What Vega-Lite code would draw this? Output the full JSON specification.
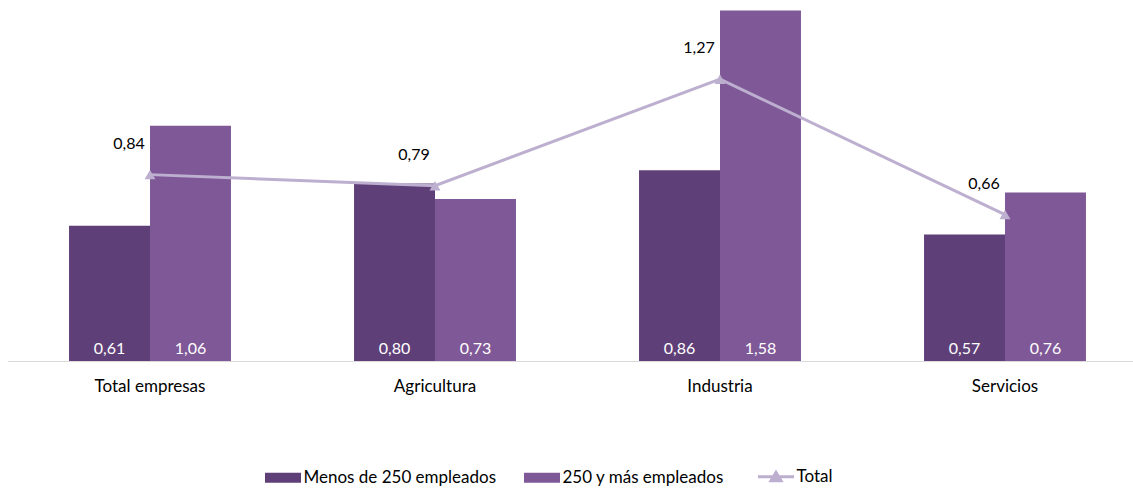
{
  "$schema": "https://vega.github.io/schema/vega-lite/v6.json",
  "width": 1125,
  "height": 355,
  "autosize": {"type": "none"},
  "padding": {"left": 7.5, "top": 6, "right": 0, "bottom": 128},
  "config": {
    "view": {"stroke": null},
    "font": "Lato",
    "locale": {"number": {"decimal": ",", "thousands": ".", "grouping": [3], "currency": ["", " €"]}}
  },
  "datasets": {
    "bars": [
      {"cat": "Total empresas", "serie": "Menos de 250 empleados", "valor": 0.61},
      {"cat": "Total empresas", "serie": "250 y más empleados", "valor": 1.06},
      {"cat": "Agricultura", "serie": "Menos de 250 empleados", "valor": 0.80},
      {"cat": "Agricultura", "serie": "250 y más empleados", "valor": 0.73},
      {"cat": "Industria", "serie": "Menos de 250 empleados", "valor": 0.86},
      {"cat": "Industria", "serie": "250 y más empleados", "valor": 1.58},
      {"cat": "Servicios", "serie": "Menos de 250 empleados", "valor": 0.57},
      {"cat": "Servicios", "serie": "250 y más empleados", "valor": 0.76}
    ],
    "total": [
      {"cat": "Total empresas", "serie": "Total", "valor": 0.84},
      {"cat": "Agricultura", "serie": "Total", "valor": 0.79},
      {"cat": "Industria", "serie": "Total", "valor": 1.27},
      {"cat": "Servicios", "serie": "Total", "valor": 0.66}
    ]
  },
  "encoding": {
    "x": {
      "field": "cat", "type": "nominal",
      "sort": ["Total empresas", "Agricultura", "Industria", "Servicios"],
      "scale": {"range": [0, 1140], "paddingInner": 0, "paddingOuter": 0},
      "axis": {"title": null, "labelAngle": 0, "ticks": false, "domainColor": "#D9D9D9", "domainWidth": 1, "labelFontSize": 17, "labelColor": "#000000", "labelPadding": 17, "labelFont": "Lato"}
    },
    "y": {
      "field": "valor", "type": "quantitative",
      "scale": {"domain": [0, 1.6], "nice": false, "zero": true},
      "axis": null
    }
  },
  "layer": [
    {
      "data": {"name": "bars"},
      "mark": {"type": "bar"},
      "encoding": {
        "xOffset": {"field": "serie", "type": "nominal", "sort": ["Menos de 250 empleados", "250 y más empleados"], "scale": {"paddingInner": 0, "paddingOuter": 0.76}},
        "color": {
          "field": "serie", "type": "nominal",
          "scale": {"domain": ["Menos de 250 empleados", "250 y más empleados", "Total"], "range": ["#5F3F78", "#7F5897", "#BDAFCF"]},
          "legend": {
            "title": null,
            "orient": "none",
            "direction": "horizontal",
            "legendX": 267,
            "legendY": 462,
            "padding": 0,
            "symbolSize": 1296,
            "labelFontSize": 17,
            "labelFont": "Lato",
            "labelColor": "#000000",
            "labelLimit": 400,
            "labelOffset": 12,
            "columnPadding": 27,
            "symbolStrokeWidth": 0,
            "encode": {
              "symbols": {
                "update": {
                  "shape": {"signal": "datum.value === 'Total' ? 'M-1,0H1M-0.28,0.22L0,-0.24L0.28,0.22Z' : 'M-1,-0.28H1V0.28H-1Z'"},
                  "fill": {"scale": "color", "field": "value"},
                  "stroke": {"scale": "color", "field": "value"},
                  "strokeWidth": {"signal": "datum.value === 'Total' ? 3 : 0"},
                  "opacity": {"value": 1},
                  "fillOpacity": {"value": 1}
                }
              }
            }
          }
        }
      }
    },
    {
      "data": {"name": "bars"},
      "mark": {"type": "text", "color": "#FFFFFF", "fontSize": 16, "baseline": "middle", "dy": -12, "font": "Lato"},
      "encoding": {
        "xOffset": {"field": "serie", "type": "nominal", "sort": ["Menos de 250 empleados", "250 y más empleados"]},
        "y": {"datum": 0},
        "text": {"field": "valor", "type": "quantitative", "format": ".2f"}
      }
    },
    {
      "data": {"name": "total"},
      "mark": {"type": "line", "strokeWidth": 3, "color": "#BDAFCF", "point": {"shape": "triangle-up", "size": 120, "filled": true, "color": "#BDAFCF", "opacity": 1}},
      "encoding": {
        "color": {"field": "serie", "type": "nominal"}
      }
    },
    {
      "data": {"name": "total"},
      "mark": {"type": "text", "color": "#000000", "fontSize": 16, "baseline": "middle", "dx": -21, "dy": -31, "font": "Lato"},
      "encoding": {
        "text": {"field": "valor", "type": "quantitative", "format": ".2f"}
      }
    }
  ]
}
